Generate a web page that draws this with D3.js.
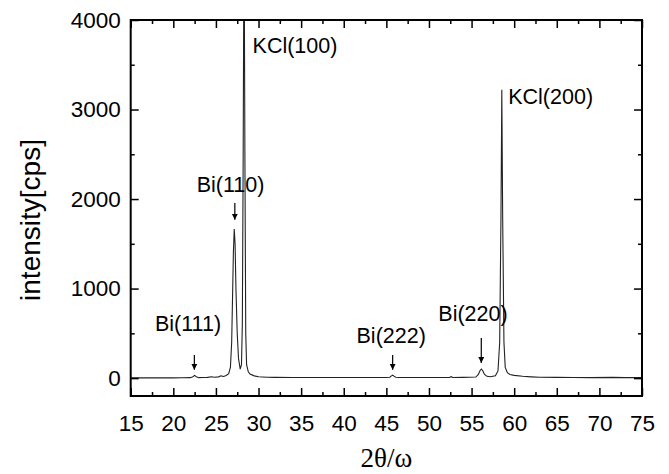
<!DOCTYPE html>
<html>
<head>
<meta charset="utf-8">
<script src="https://cdn.jsdelivr.net/npm/d3@7"></script>
<style>
  body { margin: 0; background: #fff; }
  text { fill: #000; }
</style>
</head>
<body>
<svg id="plot"></svg>
<script>
// XRD scan, 2theta (deg) vs intensity (cps)
var twoTheta = [15, 16, 17, 18, 19, 20, 21, 22, 22.3, 22.5, 22.7, 23, 23.5, 24, 24.5, 24.8, 25.3, 25.6, 25.9, 26.2, 26.5, 26.7, 26.85, 26.95, 27.05, 27.15, 27.25, 27.35, 27.5, 27.65, 27.85, 28, 28.1, 28.2, 28.3, 28.4, 28.5, 28.6, 28.8, 29, 29.5, 30, 31, 32, 34, 36, 38, 40, 42, 44, 45, 45.4, 45.6, 45.75, 45.9, 46.1, 46.5, 48, 50, 52.4, 52.6, 52.8, 54, 55.5, 55.8, 56, 56.15, 56.3, 56.5, 56.8, 57.2, 57.8, 58.1, 58.3, 58.45, 58.55, 58.65, 58.8, 58.95, 59.2, 59.5, 60, 61, 62, 63, 65, 67, 69, 71.6, 73, 75];
var intensity = [2, 2, 3, 2, 3, 3, 4, 5, 15, 30, 15, 5, 6, 8, 15, 10, 14, 25, 18, 30, 50, 120, 400, 900, 1400, 1665, 1500, 1000, 500, 220, 100, 150, 600, 2500, 5200, 2500, 500, 150, 70, 45, 25, 15, 10, 8, 7, 6, 6, 6, 6, 6, 6, 10, 25, 32, 22, 10, 7, 6, 6, 7, 16, 7, 8, 12, 40, 85, 100, 85, 45, 20, 15, 25, 80, 400, 1800, 3220, 1800, 400, 120, 60, 40, 30, 20, 14, 10, 8, 6, 5, 8, 5, 5];

var xTicks = [15, 20, 25, 30, 35, 40, 45, 50, 55, 60, 65, 70, 75];
var yTicks = [0, 1000, 2000, 3000, 4000];

// peak labels: name, label anchor (2theta, intensity), arrow (2theta, from, to)
var peakNames = ['Bi(111)', 'Bi(110)', 'KCl(100)', 'Bi(222)', 'Bi(220)', 'KCl(200)'];
var labelX = [17.85, 22.75, 29.3, 41.5, 51.1, 59.3];
var labelY = [527, 2080, 3633, 393, 639, 3063];
var arrowX = [22.47, 27.22, null, 45.74, 56.14, null];
var arrowFrom = [259, 1957, null, 259, 448, null];
var arrowTo = [92, 1768, null, 92, 170, null];

var sans = '"Liberation Sans", Arial, sans-serif';
var serif = '"Liberation Serif", "Times New Roman", serif';

var W = 669, H = 474;
var m = {l: 130.7, t: 20, r: 27, b: 78};
var w = W - m.l - m.r, h = H - m.t - m.b;

var xs = d3.scaleLinear().domain([15, 75]).range([0, w]);
var ys = d3.scaleLinear().domain([-200, 4000]).range([h, 0]);

var svg = d3.select('#plot').attr('width', W).attr('height', H);
svg.append('defs').append('marker')
    .attr('id', 'head')
    .attr('viewBox', '0 0 10 10')
    .attr('refX', 10).attr('refY', 5)
    .attr('markerWidth', 6).attr('markerHeight', 7)
    .attr('markerUnits', 'userSpaceOnUse')
    .attr('orient', 'auto')
  .append('path').attr('d', 'M0,0L10,5L0,10z').attr('fill', '#000');
svg.select('defs').append('clipPath').attr('id', 'clip')
  .append('rect').attr('width', w).attr('height', h);

var g = svg.append('g').attr('transform', 'translate(' + m.l + ',' + m.t + ')');

var pts = twoTheta.map(function(t, i) { return [t, intensity[i]]; });
g.append('path')
    .datum(pts)
    .attr('clip-path', 'url(#clip)')
    .attr('fill', 'none')
    .attr('stroke', '#222')
    .attr('stroke-width', 1.1)
    .attr('d', d3.line().x(function(d) { return xs(d[0]); }).y(function(d) { return ys(d[1]); }));

// axes: ticks inward on all four sides
var minorX = d3.range(17.5, 75, 5);
var minorY = d3.range(500, 4000, 1000);
function styleAxis(sel) {
    sel.select('.domain').remove();
    sel.selectAll('.tick line').attr('stroke', '#000').attr('stroke-width', 1.5);
    sel.selectAll('.tick text').style('font-size', '22.5px').style('font-family', sans).attr('fill', '#000');
}
g.append('g').attr('transform', 'translate(0,' + h + ')')
    .call(d3.axisBottom(xs).tickValues(xTicks).tickSize(-8).tickPadding(19).tickFormat(d3.format('d')))
    .call(styleAxis);
g.append('g').attr('transform', 'translate(0,' + h + ')')
    .call(d3.axisBottom(xs).tickValues(minorX).tickSize(-4).tickFormat(''))
    .call(styleAxis);
g.append('g')
    .call(d3.axisTop(xs).tickValues(xTicks).tickSize(-8).tickFormat(''))
    .call(styleAxis);
g.append('g')
    .call(d3.axisTop(xs).tickValues(minorX).tickSize(-4).tickFormat(''))
    .call(styleAxis);
g.append('g')
    .call(d3.axisLeft(ys).tickValues(yTicks).tickSize(-8).tickPadding(10).tickFormat(d3.format('d')))
    .call(styleAxis);
g.append('g')
    .call(d3.axisLeft(ys).tickValues(minorY).tickSize(-4).tickFormat(''))
    .call(styleAxis);
g.append('g').attr('transform', 'translate(' + w + ',0)')
    .call(d3.axisRight(ys).tickValues(yTicks).tickSize(-8).tickFormat(''))
    .call(styleAxis);
g.append('g').attr('transform', 'translate(' + w + ',0)')
    .call(d3.axisRight(ys).tickValues(minorY).tickSize(-4).tickFormat(''))
    .call(styleAxis);

g.append('rect')
    .attr('width', w).attr('height', h)
    .attr('fill', 'none').attr('stroke', '#000').attr('stroke-width', 2);

// peak labels and arrows
peakNames.forEach(function(name, i) {
    g.append('text')
        .attr('x', xs(labelX[i])).attr('y', ys(labelY[i]))
        .style('font-family', sans)
        .style('font-size', '21.5px')
        .text(name);
    if (arrowX[i] !== null) {
        g.append('line')
            .attr('x1', xs(arrowX[i])).attr('x2', xs(arrowX[i]))
            .attr('y1', ys(arrowFrom[i])).attr('y2', ys(arrowTo[i]))
            .attr('stroke', '#000').attr('stroke-width', 1.2)
            .attr('marker-end', 'url(#head)');
    }
});

svg.append('text')
    .attr('transform', 'translate(40,220) rotate(-90)')
    .attr('text-anchor', 'middle')
    .style('font-family', sans)
    .style('font-size', '28px')
    .text('intensity[cps]');

svg.append('text')
    .attr('x', m.l + w / 2).attr('y', 467)
    .attr('text-anchor', 'middle')
    .style('font-family', serif)
    .style('font-size', '27px')
    .text('2θ/ω');
</script>
</body>
</html>
